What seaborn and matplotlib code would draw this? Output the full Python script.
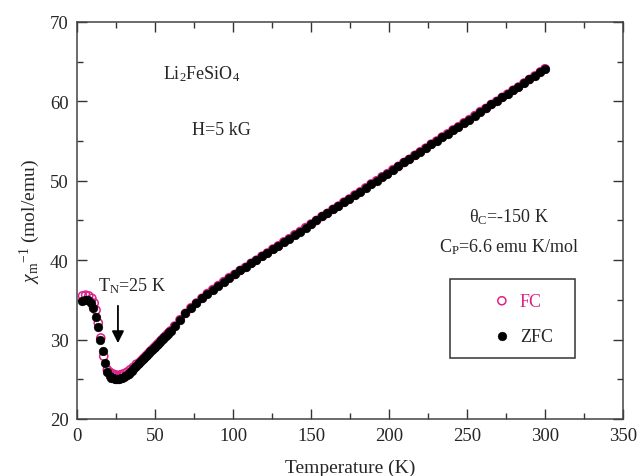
import numpy as np
import pandas as pd
import matplotlib
matplotlib.use("Agg")
import matplotlib.pyplot as plt
from matplotlib.patches import Rectangle
from matplotlib.ticker import MultipleLocator
import seaborn as sns

# ZFC data
zfc_temp = [3, 5, 7, 9, 10.5, 12, 13.5, 15, 16.5, 18, 19.5, 21, 22, 23, 24, 25, 26, 27, 28,
            29, 30, 31, 32, 33, 34, 35, 36, 37, 38, 39, 40, 41, 42, 43, 44, 45, 46, 47, 48,
            49, 50, 51, 52, 53, 54, 55, 56, 57, 58, 59, 60,
            62.5, 66, 69.5, 73, 76.5, 80, 83.5, 87, 90.5, 94, 97.5, 101, 104.5, 108, 111.5,
            115, 118.5, 122, 125.5, 129, 132.5, 136, 139.5, 143, 146.5, 150, 153.5, 157,
            160.5, 164, 167.5, 171, 174.5, 178, 181.5, 185, 188.5, 192, 195.5, 199, 202.5,
            206, 209.5, 213, 216.5, 220, 223.5, 227, 230.5, 234, 237.5, 241, 244.5, 248,
            251.5, 255, 258.5, 262, 265.5, 269, 272.5, 276, 279.5, 283, 286.5, 290, 293.5,
            297, 300]
zfc_chi = [34.9, 35.0, 35.0, 34.6, 34.0, 32.8, 31.6, 30.0, 28.5, 27.0, 25.9, 25.4, 25.2, 25.1,
           25.0, 25.0, 25.0, 25.0, 25.1, 25.2, 25.3, 25.4, 25.6, 25.7, 25.9, 26.1, 26.3, 26.5,
           26.7, 26.9, 27.1, 27.3, 27.5, 27.7, 27.9, 28.1, 28.3, 28.5, 28.7, 28.9, 29.1, 29.3,
           29.5, 29.7, 29.9, 30.1, 30.3, 30.5, 30.7, 30.9, 31.1,
           31.7, 32.5, 33.3, 34.0, 34.6, 35.2, 35.8, 36.3, 36.8, 37.3, 37.8, 38.2, 38.7, 39.1,
           39.6, 40.0, 40.5, 40.9, 41.4, 41.8, 42.3, 42.7, 43.2, 43.6, 44.1, 44.55, 45.0, 45.5,
           45.9, 46.4, 46.8, 47.3, 47.7, 48.2, 48.6, 49.1, 49.6, 50.0, 50.5, 50.9, 51.4, 51.8,
           52.3, 52.7, 53.2, 53.65, 54.1, 54.6, 55.0, 55.5, 55.9, 56.4, 56.8, 57.3, 57.7, 58.2,
           58.7, 59.1, 59.6, 60.0, 60.5, 60.9, 61.4, 61.8, 62.3, 62.75, 63.2, 63.7, 64.1]

# FC data below 40 K (above that FC sits under the ZFC points)
fc_temp_low = [3.5, 5.5, 7.5, 9.5, 11, 12.2, 13.6, 15.2, 17.1, 19.4, 21, 22.5, 24, 25.5, 27,
               28.5, 30, 32, 34, 36, 38]
fc_chi_low = [35.5, 35.6, 35.5, 35.2, 34.6, 33.7, 32.1, 30.2, 27.9, 26.2, 25.9, 25.7, 25.6,
              25.5, 25.5, 25.6, 25.7, 25.9, 26.2, 26.5, 26.9]

zfc = pd.DataFrame({"T": zfc_temp, "chi": zfc_chi})
fc_high = zfc[zfc["T"] >= 40]
fc = pd.DataFrame({"T": fc_temp_low + list(fc_high["T"]),
                   "chi": fc_chi_low + list(fc_high["chi"])})

sns.set_style("ticks")
plt.rcParams["font.family"] = ["Liberation Serif", "DejaVu Serif"]
plt.rcParams["mathtext.fontset"] = "custom"
plt.rcParams["mathtext.rm"] = "Liberation Serif"
plt.rcParams["mathtext.it"] = "Liberation Serif:italic"

fig = plt.figure(figsize=(6.37, 4.77), dpi=100)
ax = fig.add_axes([0.121, 0.1195, 0.857, 0.8325])

pink = "#e0208a"
sns.scatterplot(data=fc, x="T", y="chi", ax=ax, marker="o", s=34, facecolor="none",
                edgecolor=pink, linewidth=1.1, label="FC", zorder=2)
sns.scatterplot(data=zfc, x="T", y="chi", ax=ax, marker="o", s=40, color="black",
                edgecolor="black", linewidth=0.3, label="ZFC", zorder=3)

ax.set_xlim(0, 350)
ax.set_ylim(20, 70)
ax.xaxis.set_major_locator(MultipleLocator(50))
ax.xaxis.set_minor_locator(MultipleLocator(25))
ax.yaxis.set_major_locator(MultipleLocator(10))
ax.yaxis.set_minor_locator(MultipleLocator(5))
ax.tick_params(which="both", direction="in", top=True, right=True, labelsize=13.5,
               color="#333333", width=1)
ax.tick_params(which="major", length=7, pad=6)
ax.tick_params(which="minor", length=4)
for sp in ax.spines.values():
    sp.set_color("#444444")
    sp.set_linewidth(1.1)

ax.set_xlabel("Temperature (K)", fontsize=14, labelpad=10)
ax.set_ylabel(r"$\chi_{\mathrm{m}}$$^{-1}$ (mol/emu)", fontsize=14, labelpad=6)

ax.text(55, 63.5, r"Li$_2$FeSiO$_4$", fontsize=13, va="center")
ax.text(74, 56.5, "H=5 kG", fontsize=13, va="center")
ax.text(251, 45.6, r"$\mathrm{\theta_C}$=-150 K", fontsize=13, va="center")
ax.text(232, 41.8, r"C$_\mathrm{P}$=6.6 emu K/mol", fontsize=13, va="center")
ax.text(13.5, 36.9, r"T$_\mathrm{N}$=25 K", fontsize=13, va="center")
ax.annotate("", xy=(26.2, 29.2), xytext=(26.2, 34.6),
            arrowprops=dict(arrowstyle="-|>", color="black", lw=1.3, mutation_scale=18))

# legend box
ax.add_patch(Rectangle((0.683, 0.153), 0.229, 0.2, transform=ax.transAxes, fill=False,
                       edgecolor="#333333", linewidth=1.1, zorder=5))
leg = ax.legend(loc="center left", bbox_to_anchor=(0.745, 0.253), frameon=False, fontsize=13,
                handlelength=1.0, handletextpad=0.5, labelspacing=1.0, borderpad=0)
leg.get_texts()[0].set_color(pink)

fig.savefig("out.png", dpi=100)
